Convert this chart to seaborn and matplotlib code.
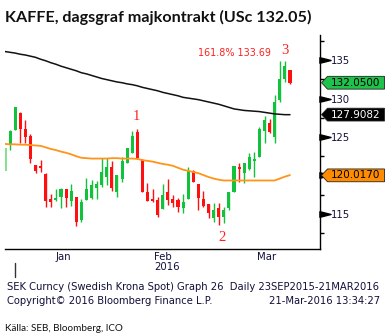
import matplotlib
matplotlib.use("Agg")
import numpy as np
import pandas as pd
import seaborn as sns
import matplotlib.pyplot as plt
import matplotlib.transforms as mtrans
from matplotlib.patches import Polygon
from matplotlib.path import Path

sns.set_style("white")
plt.rcParams['font.family'] = ['DejaVu Sans']

# ---------------- data ----------------
opens = [120.6, 123.96, 125.9, 128.16, 126.04, 125.13, 121.36, 121.27, 120.23, 116.99,
         116.82, 117.2, 118.25, 116.73, 117.21, 114.18, 116.82, 117.04, 118.42, 118.77,
         119.84, 121.14, 117.9, 119.58, 121.66, 122.96, 125.61, 122.01, 117.9, 116.95,
         116.82, 115.69, 117.9, 116.95, 116.82, 115.82, 116.95, 120.58, 118.9, 117.0,
         116.3, 114.48, 115.74, 114.6, 115.74, 117.9, 121.14, 120.28, 120.8, 121.92,
         122.44, 125.82, 126.78, 125.0, 129.8, 132.49, 133.7]
highs = [123.55, 125.9, 128.94, 128.25, 127.2, 125.43, 121.36, 122.0, 120.36, 117.56,
         118.2, 118.4, 118.25, 118.9, 117.21, 116.95, 119.64, 119.42, 119.3, 122.23,
         122.23, 121.92, 120.06, 122.44, 123.61, 125.78, 126.0, 122.1, 118.99, 118.2,
         117.17, 118.9, 119.5, 117.47, 117.04, 117.64, 121.06, 120.71, 118.9, 118.03,
         116.3, 116.47, 116.47, 115.95, 117.9, 121.23, 121.66, 121.66, 122.88, 123.1,
         126.26, 127.73, 127.38, 130.5, 134.9, 134.91, 133.7]
lows = [120.6, 123.3, 125.9, 124.26, 124.26, 121.66, 120.28, 120.49, 115.95, 115.95,
        116.73, 115.8, 115.95, 116.04, 113.48, 114.0, 116.82, 116.95, 116.99, 118.55,
        118.77, 118.03, 117.17, 119.12, 121.58, 122.88, 122.1, 117.9, 116.73, 116.52,
        114.65, 115.69, 116.17, 115.95, 115.3, 115.17, 116.95, 119.19, 115.52, 115.95,
        114.44, 114.0, 113.57, 113.79, 115.52, 117.9, 119.19, 119.06, 120.71, 119.84,
        122.36, 124.26, 125.56, 124.2, 129.58, 132.18, 131.88]
closes = [123.55, 125.78, 128.86, 126.0, 125.04, 122.1, 120.58, 120.97, 116.73, 116.6,
          117.1, 118.29, 117.1, 117.99, 113.92, 116.6, 118.25, 118.77, 118.9, 120.49,
          121.14, 118.34, 120.06, 121.92, 123.53, 125.17, 122.31, 117.9, 116.73, 116.69,
          114.87, 117.47, 116.82, 116.47, 115.95, 116.6, 120.62, 119.19, 117.12, 116.04,
          115.09, 115.52, 114.65, 115.52, 117.9, 121.23, 120.8, 121.58, 122.36, 122.14,
          126.0, 127.2, 125.69, 129.6, 132.49, 134.22, 132.05]
ma_long = [136.1, 136.0, 135.9, 135.75, 135.65, 135.5, 135.35, 135.1, 134.9, 134.65,
           134.45, 134.2, 134.0, 133.8, 133.6, 133.35, 133.2, 133.0, 132.8, 132.6,
           132.45, 132.3, 132.15, 132.05, 131.9, 131.8, 131.65, 131.45, 131.3, 131.15,
           131.0, 130.8, 130.65, 130.5, 130.35, 130.15, 130.05, 129.95, 129.85, 129.7,
           129.55, 129.4, 129.25, 129.05, 128.85, 128.65, 128.55, 128.45, 128.4, 128.35,
           128.3, 128.2, 128.1, 128.0, 127.95, 127.9, 127.9]
ma_short = [124.1, 124.05, 124.05, 124.0, 124.0, 123.95, 123.9, 123.85, 123.65, 123.45,
            123.3, 123.1, 122.95, 122.75, 122.5, 122.3, 122.25, 122.2, 122.2, 122.2,
            122.2, 122.25, 122.25, 122.2, 122.2, 122.2, 122.15, 122.0, 121.9, 121.8,
            121.65, 121.5, 121.4, 121.25, 121.0, 120.75, 120.6, 120.45, 120.3, 120.05,
            119.8, 119.6, 119.45, 119.35, 119.35, 119.35, 119.35, 119.35, 119.35, 119.35,
            119.35, 119.35, 119.35, 119.35, 119.6, 119.85, 120.05]

month_labels = ["Jan", "Feb", "Mar"]
month_start_idx = [2, 21, 41]
year_label = "2016"
ytick_vals = [115, 120, 125, 130, 135]
yminor_vals = [112.5, 117.5, 122.5, 127.5, 132.5, 137.5]
last_price = 132.05
ma_long_last = 127.9082
ma_short_last = 120.0170
wave_labels = ["1", "2", "3"]
wave_idx = [25.9, 42.6, 55.1]
wave_vals = [127.6, 112.0, 136.3]
fib_text = "161.8% 133.69"

NARROW = dict(family=["Lato", "DejaVu Sans"])

# ---------------- figure ----------------
W, H = 391, 335
fig = plt.figure(figsize=(W / 100, H / 100), dpi=100)
fig.patch.set_facecolor("white")
ax_l, ax_r, ax_t, ax_b = 4.5, 320, 35, 249
ax = fig.add_axes([ax_l / W, (H - ax_b) / H, (ax_r - ax_l) / W, (ax_b - ax_t) / H])
ax.set_facecolor("white")

GREEN = "#12c23c"
RED = "#ff1010"
LIGHT = "#86e08e"

df = pd.DataFrame({"o": opens, "h": highs, "l": lows, "c": closes})
df["i"] = np.arange(len(df))
for i, r in df.iterrows():
    up = r.c >= r.o
    col = GREEN if up else RED
    if i == 0:
        col = LIGHT
    else:
        ax.vlines(r.i, r.l, r.h, color=col, lw=1.0, zorder=2)
    lo, hi = min(r.o, r.c), max(r.o, r.c)
    ax.bar(r.i, max(hi - lo, 0.15), bottom=lo, width=0.6, color=col,
           linewidth=0, zorder=2)

sns.lineplot(x=df["i"], y=ma_long, color="#111111", lw=1.1, ax=ax, zorder=3)
sns.lineplot(x=df["i"], y=ma_short, color="#ff9419", lw=1.3, ax=ax, zorder=3)

ax.set_xlim(-0.1, 61.9)
ax.set_ylim(110.45, 138.25)
ax.set_xlabel("")
ax.set_ylabel("")

for s in ["top", "left"]:
    ax.spines[s].set_visible(False)
for s in ["right", "bottom"]:
    ax.spines[s].set_visible(True)
    ax.spines[s].set_color("black")
    ax.spines[s].set_linewidth(1.0)

box_vals = [last_price, ma_long_last, ma_short_last]
half = 6.4 / 7.7

# y axis on the right
ax.yaxis.tick_right()
ax.set_yticks(ytick_vals)
ylabels = ["" if min(abs(v - b) for b in box_vals) < 2 * half else str(v) for v in ytick_vals]
ax.set_yticklabels(ylabels, fontsize=7.3, color="#10103a")
ax.set_yticks(yminor_vals, minor=True)
ax.tick_params(axis="y", which="major", length=0, pad=8)
ax.tick_params(axis="y", which="minor", length=3, width=1, direction="out", color="black")
trY = mtrans.blended_transform_factory(ax.transAxes, ax.transData)
tri = Path([(-1, -0.5), (1, 0), (-1, 0.5), (-1, -0.5)],
           [Path.MOVETO, Path.LINETO, Path.LINETO, Path.CLOSEPOLY])
ax.plot([1 + 4.5 / (ax_r - ax_l)] * len(ytick_vals), ytick_vals, ls="none",
        marker=tri, ms=8, color="black", transform=trY, clip_on=False, zorder=5)

# x axis
ax.set_xticks(month_start_idx)
ax.set_xticklabels([])
ax.tick_params(axis="x", which="major", length=4, width=1, direction="out", color="black")
lab_pos = [(month_start_idx[k] + (month_start_idx[k + 1] if k + 1 < len(month_start_idx) else 61.9)) / 2
           for k in range(len(month_start_idx))]
ax.set_xticks(lab_pos, minor=True)
ax.set_xticklabels(month_labels, minor=True, fontsize=7.3, color="#10103a")
ax.tick_params(axis="x", which="minor", length=0, pad=2)
trX = mtrans.blended_transform_factory(ax.transData, ax.transAxes)
ax.text(lab_pos[1] + 0.9, -0.085, year_label, transform=trX, ha="center",
        va="center", fontsize=7.3, color="#10103a")
ax.plot([month_start_idx[0]] * 2, [-0.065, -0.13], color="#333333", lw=1,
        transform=trX, clip_on=False)

trB = mtrans.blended_transform_factory(fig.transFigure, ax.transData)


def value_box(val, face, txtcol):
    x0, x1, x2 = 321.5 / W, 327.5 / W, 384.5 / W
    poly = Polygon([(x0, val), (x1, val + half), (x2, val + half), (x2, val - half),
                    (x1, val - half)], closed=True, transform=trB, facecolor=face,
                   edgecolor="#222222", lw=0.6, clip_on=False, zorder=6)
    fig.add_artist(poly)
    fig.text(355.5 / W, val, f"{val:.4f}", transform=trB, ha="center", va="center",
             fontsize=7.5, color=txtcol, zorder=7)


value_box(last_price, "#1fc24a", "black")
value_box(ma_long_last, "black", "white")
value_box(ma_short_last, "#ff8c00", "black")

# wave labels
for lab, xi, yv in zip(wave_labels, wave_idx, wave_vals):
    ax.text(xi, yv, lab, ha="center", va="center", fontsize=10.5, color="#ff2020",
            family=["Liberation Serif", "DejaVu Serif"], clip_on=False)
ax.text(52.2, 135.95, fib_text, ha="right", va="center", fontsize=6.9, color="#ff2020")

# title and footer
fig.text(5 / W, 1 - 21.7 / H, "KAFFE, dagsgraf majkontrakt (USc 132.05)", ha="left",
         va="baseline", fontsize=11.6, fontweight="bold", color="#111111", **NARROW)
fig.text(7 / W, 1 - 286.7 / H, "SEK Curncy (Swedish Krona Spot) Graph 26  Daily 23SEP2015-21MAR2016",
         ha="left", va="center", fontsize=7.2, color="#10103a")
fig.text(7 / W, 1 - 300.7 / H, "Copyright\u00a9 2016 Bloomberg Finance L.P.", ha="left",
         va="center", fontsize=7.2, color="#10103a")
fig.text(380 / W, 1 - 300.7 / H, "21-Mar-2016 13:34:27", ha="right", va="center",
         fontsize=7.2, color="#10103a")
fig.text(5 / W, 1 - 328.3 / H, "Källa: SEB, Bloomberg, ICO", ha="left", va="center",
         fontsize=7.1, color="#111111", **NARROW)

fig.savefig("out.png", dpi=100, facecolor="white")
